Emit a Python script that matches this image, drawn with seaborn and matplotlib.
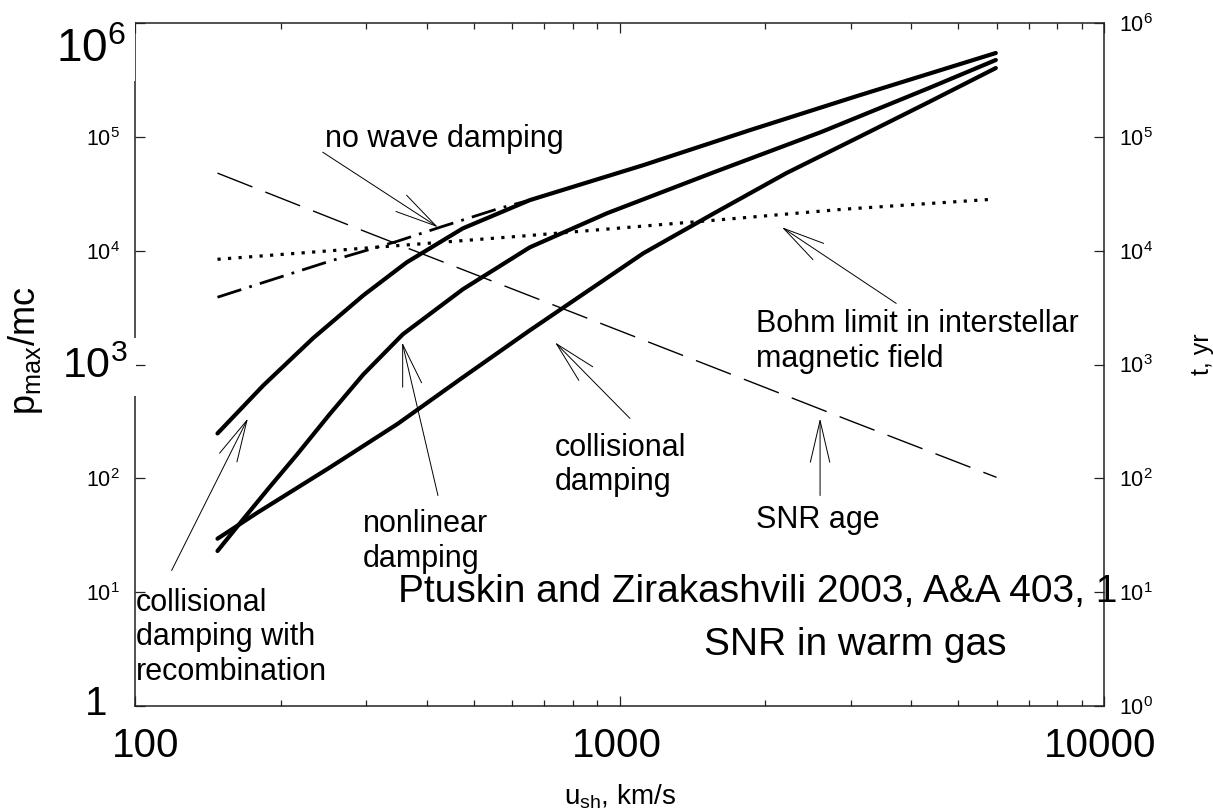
import matplotlib
matplotlib.use("Agg")
import matplotlib.pyplot as plt
import seaborn as sns
from matplotlib.ticker import LogLocator, NullLocator, NullFormatter

# ---------------- data ----------------
# collisional damping with recombination
u_recomb = [148, 184, 233, 296, 364, 475, 653, 1120, 1860, 3090, 5980]
p_recomb = [248, 655, 1700, 4050, 7910, 15700, 27800, 56400, 114600, 228000, 545000]
# nonlinear damping
u_nonlin = [148, 167, 190, 216, 252, 296, 357, 475, 653, 942, 1567, 2605, 4350, 5980]
p_nonlin = [23, 43.4, 84.7, 162, 364, 818, 1840, 4580, 10700, 21300, 48900, 110000, 268000, 473000]
# collisional damping
u_coll = [148, 179, 252, 348, 475, 653, 1120, 1567, 2210, 3090, 4350, 5980]
p_coll = [29.5, 50, 124, 300, 771, 1995, 9490, 21300, 48000, 97500, 202000, 402000]
# no wave damping
u_nowave = [148, 179, 252, 348, 427, 566, 653, 1120, 1860, 3090, 5980]
p_nowave = [3900, 5060, 8070, 12100, 16100, 23600, 27800, 56400, 114600, 228000, 545000]
# Bohm limit in interstellar magnetic field
u_bohm = [148, 296, 653, 1567, 2890, 5900]
p_bohm = [8400, 10500, 13600, 18500, 23100, 28300]
# SNR age (right axis, yr)
u_age = [148, 300, 600, 1000, 2000, 3000, 6000]
t_age = [48000, 14600, 4620, 1980, 627, 319, 102]

x_ticks = [100, 1000, 10000]
x_tick_labels = ["100", "1000", "10000"]
y_ticks = [1, 10, 100, 1e3, 1e4, 1e5, 1e6]
y_left_labels = ["", r"$\mathregular{10^{1}}$", r"$\mathregular{10^{2}}$", "",
                 r"$\mathregular{10^{4}}$", r"$\mathregular{10^{5}}$", ""]
y_right_labels = [r"$\mathregular{10^{%d}}$" % k for k in range(7)]

# ---------------- style ----------------
sns.set_style("ticks")
plt.rcParams["font.family"] = ["Liberation Sans", "DejaVu Sans"]
plt.rcParams["axes.linewidth"] = 1.1
for key in ["text.color", "axes.labelcolor", "xtick.color", "ytick.color", "axes.edgecolor"]:
    plt.rcParams[key] = "black"

fig = plt.figure(figsize=(12.13, 8.11), dpi=100)
ax = fig.add_axes([135 / 1213, 105 / 811, 969 / 1213, 683 / 811])
ax.set_xscale("log")
ax.set_yscale("log")
ax.set_xlim(100, 10000)
ax.set_ylim(1, 1e6)

# curves
sns.lineplot(x=u_nowave, y=p_nowave, ax=ax, color="black", lw=2.0,
             sort=False, estimator=None)
ax.lines[-1].set_linestyle((0, (9, 3, 1, 3)))
sns.lineplot(x=u_bohm, y=p_bohm, ax=ax, color="black", lw=2.3,
             sort=False, estimator=None)
ax.lines[-1].set_linestyle((0, (1, 2.3)))
for u, p in [(u_recomb, p_recomb), (u_nonlin, p_nonlin), (u_coll, p_coll)]:
    sns.lineplot(x=u, y=p, ax=ax, color="black", lw=3.0, sort=False, estimator=None)
    ax.lines[-1].set_solid_joinstyle("round")

# axes ticks
ax.set_xticks(x_ticks)
ax.xaxis.set_minor_locator(LogLocator(base=10, subs=range(2, 10)))
ax.xaxis.set_major_formatter(NullFormatter())
ax.xaxis.set_minor_formatter(NullFormatter())
ax.set_yticks(y_ticks)
ax.set_yticklabels(y_left_labels, fontsize=15.5)
ax.yaxis.set_minor_locator(NullLocator())
ax.tick_params(axis="both", which="both", direction="in", top=True, right=False,
               width=0.9, color="#222222")
ax.tick_params(axis="both", which="major", length=7)
ax.tick_params(axis="x", which="minor", length=4)
ax.tick_params(axis="y", which="major", pad=11)
for s in ax.spines.values():
    s.set_color("#222222")

ax.set_ylabel(r"$\mathregular{p_{max}/mc}$", fontsize=26)
ax.yaxis.set_label_coords(-0.093, 0.52)
ax.set_xlabel(r"$\mathregular{u_{sh}}$, km/s", fontsize=20)
ax.xaxis.set_label_coords(0.5, -0.112)
ax.xaxis.label.set_va("top")

# right axis: SNR age
ax2 = ax.twinx()
ax2.set_yscale("log")
ax2.set_ylim(1, 1e6)
ax2.set_xlim(100, 10000)
sns.lineplot(x=u_age, y=t_age, ax=ax2, color="black", lw=1.0, sort=False, estimator=None)
ax2.lines[-1].set_linestyle((0, (27, 10)))
ax2.set_yticks(y_ticks)
ax2.set_yticklabels(y_right_labels, fontsize=15.5)
ax2.yaxis.set_minor_locator(NullLocator())
ax2.tick_params(axis="y", which="major", direction="in", length=7, width=0.9,
                pad=11, color="#222222")
for s in ax2.spines.values():
    s.set_visible(False)
ax2.set_ylabel("t, yr", fontsize=18)
ax2.yaxis.set_label_coords(1.089, 0.515)

# annotations (text + arrows); multi-line texts anchored at last-line baseline
fs = 22
txt_kw = dict(transform=ax2.transAxes, fontsize=fs, ha="left", va="baseline", color="black")
ax2.text(0.196, 0.818, "no wave damping", **txt_kw)
ax2.text(0.001, 0.038, "collisional\ndamping with\nrecombination", **txt_kw)
ax2.text(0.235, 0.2035, "nonlinear\ndamping", **txt_kw)
ax2.text(0.4334, 0.316, "collisional\ndamping", **txt_kw)
ax2.text(0.6409, 0.2606, "SNR age", **txt_kw)
ax2.text(0.6409, 0.4963, "Bohm limit in interstellar\nmagnetic field", **txt_kw)

arrow_kw = dict(arrowstyle="->,head_length=3.0,head_width=0.7", lw=0.7,
                color="black", shrinkA=0, shrinkB=0, mutation_scale=10)
arrows = [((422, 16070), (244, 73300)),
          ((171, 336), (119, 15.5)),
          ((356, 1565), (422, 70.6)),
          ((736, 1565), (1051, 336)),
          ((2594, 336), (2594, 70.6)),
          ((2163, 16070), (3725, 3443))]
for tip, tail in arrows:
    ax2.annotate("", xy=tip, xytext=tail, xycoords="data", textcoords="data",
                 arrowprops=arrow_kw)

ax2.text(0.2714, 0.1523, "Ptuskin and Zirakashvili 2003, A&A 403, 1",
         transform=ax2.transAxes, fontsize=28, ha="left", va="baseline")
ax2.text(0.743, 0.0747, "SNR in warm gas",
         transform=ax2.transAxes, fontsize=28, ha="center", va="baseline")

# large overlay labels with white boxes
box = dict(facecolor="white", edgecolor="none", boxstyle="square,pad=0.2")
ax2.text(-0.0454, 0.943, r"$\mathregular{10^{6}}$", transform=ax2.transAxes,
         fontsize=33, ha="center", va="baseline", bbox=box, zorder=10)
ax2.text(-0.0413, 0.480, r"$\mathregular{10^{3}}$", transform=ax2.transAxes,
         fontsize=31, ha="center", va="baseline", bbox=box, zorder=10)
ax2.text(-0.040, -0.0132, "1", transform=ax2.transAxes,
         fontsize=29, ha="center", va="baseline",
         bbox=dict(facecolor="white", edgecolor="none", boxstyle="square,pad=0.12"), zorder=9)
xbox = dict(facecolor="white", edgecolor="none", boxstyle="square,pad=0.25")
x_offsets_px = [11, -3, -4]
for xv, lab, off in zip(x_ticks, x_tick_labels, x_offsets_px):
    ax2.annotate(lab, xy=(xv, -0.0747), xycoords=ax2.get_xaxis_transform(),
                 xytext=(off * 0.72, 0), textcoords="offset points",
                 fontsize=29, ha="center", va="baseline", bbox=xbox, zorder=10,
                 annotation_clip=False)

fig.savefig("out.png", dpi=100)
